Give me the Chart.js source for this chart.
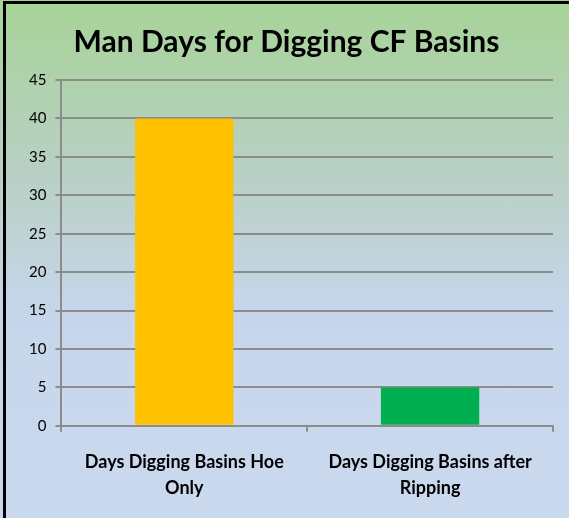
<!DOCTYPE html>
<html>
<head>
<meta charset="utf-8">
<script src="https://cdn.jsdelivr.net/npm/chart.js@4"></script>
<style>
  html, body { margin: 0; padding: 0; background: #cbd9ef; }
  #wrap {
    position: absolute; left: 0; top: 0; width: 569px; height: 518px;
    background: linear-gradient(to bottom, #a7d397 0%, #b9d0c6 35%, #c6d6ea 60%, #cbd9ef 100%);
  }
  #frame {
    position: absolute; left: 3px; top: 1px; width: 566px; height: 517px;
    border-left: 3px solid #000; border-top: 3px solid #000; box-sizing: border-box;
  }
  canvas { position: absolute; left: 0; top: 0; }
</style>
</head>
<body>
<div id="wrap">
  <canvas id="chart" width="569" height="518"></canvas>
  <div id="frame"></div>
</div>
<script>
// Chart data
const categories = [
  ["Days Digging Basins Hoe", "Only"],
  ["Days Digging Basins after", "Ripping"]
];
const manDays = [40, 5];
const barColors = ["#ffc000", "#00b050"];
const chartTitle = "Man Days for Digging CF Basins";

const fontFamily = "Lato, 'Open Sans', sans-serif";

new Chart(document.getElementById("chart"), {
  type: "bar",
  data: {
    labels: categories,
    datasets: [{
      data: manDays,
      backgroundColor: barColors,
      borderWidth: 0,
      barPercentage: 0.4,
      categoryPercentage: 1
    }]
  },
  options: {
    responsive: false,
    animation: false,
    layout: { padding: { left: 20, right: 16, top: 14, bottom: 0 } },
    plugins: {
      legend: { display: false },
      tooltip: { enabled: false },
      title: {
        display: true,
        text: chartTitle,
        color: "#000",
        font: { family: fontFamily, size: 30, weight: "bold" },
        padding: { top: 10, bottom: 20 }
      }
    },
    scales: {
      x: {
        grid: { display: true, drawOnChartArea: false, drawTicks: true, tickLength: 6, color: "#8c8c8c", lineWidth: 2, offset: true },
        border: { color: "#8c8c8c", width: 2 },
        ticks: {
          color: "#000",
          font: { family: fontFamily, size: 18, weight: "bold", lineHeight: 1.45 },
          padding: 17,
          maxRotation: 0
        }
      },
      y: {
        min: 0, max: 45,
        ticks: { stepSize: 5, color: "#000", font: { family: fontFamily, size: 15 }, padding: 9 },
        grid: { color: "#8c8c8c", lineWidth: 2, tickLength: 6 },
        border: { color: "#8c8c8c", width: 2 }
      }
    }
  }
});
</script>
</body>
</html>
